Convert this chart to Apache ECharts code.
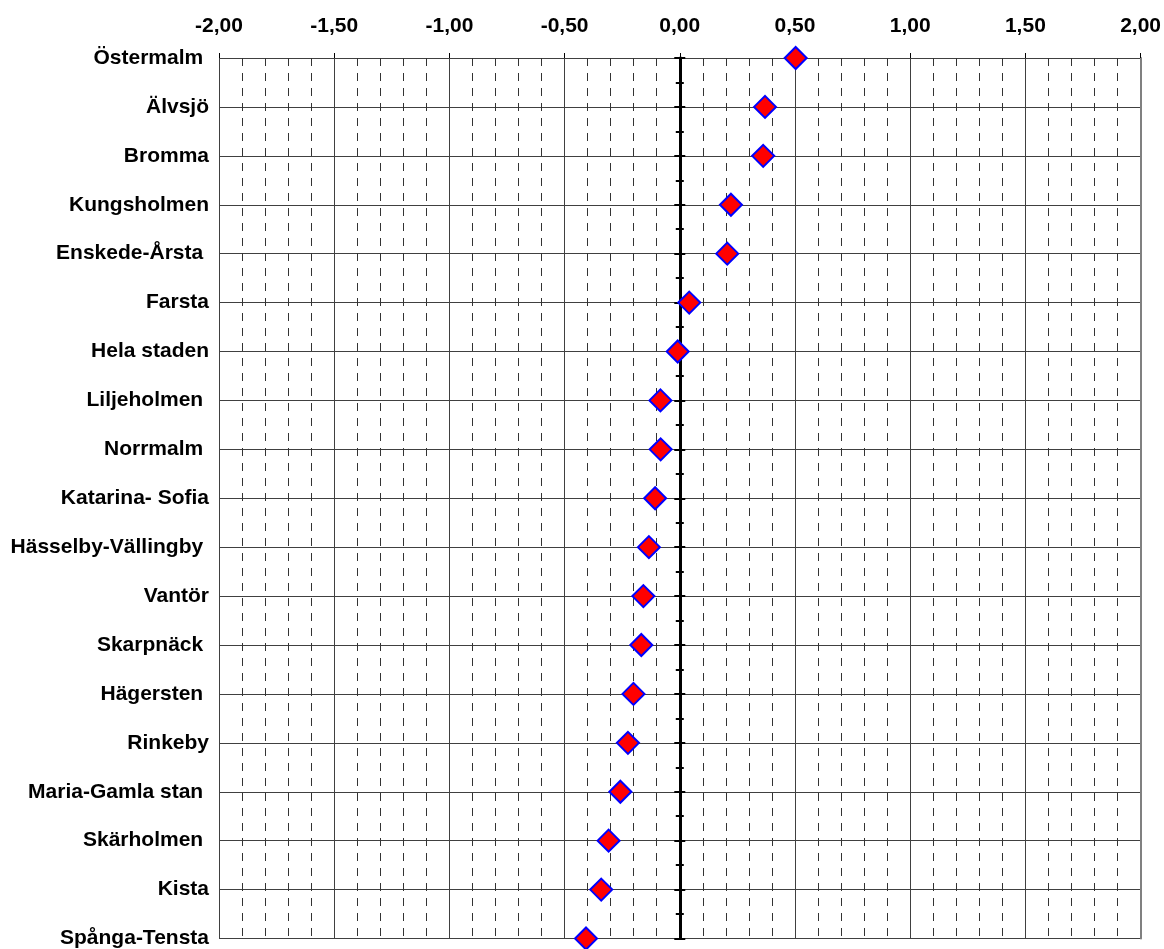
<!DOCTYPE html>
<html><head><meta charset="utf-8">
<script src="https://cdn.jsdelivr.net/npm/echarts@6/dist/echarts.min.js"></script>
<style>html,body{margin:0;padding:0;background:#fff}#c{width:1164px;height:949px}</style>
</head><body><div id="c"></div>
<script>
const categories = ['Östermalm ', 'Älvsjö', 'Bromma', 'Kungsholmen', 'Enskede-Årsta ', 'Farsta', 'Hela staden', 'Liljeholmen ', 'Norrmalm ', 'Katarina- Sofia', 'Hässelby-Vällingby ', 'Vantör', 'Skarpnäck ', 'Hägersten ', 'Rinkeby', 'Maria-Gamla stan ', 'Skärholmen ', 'Kista', 'Spånga-Tensta'];
const values = [0.503, 0.370, 0.362, 0.222, 0.206, 0.041, -0.009, -0.084, -0.083, -0.107, -0.134, -0.158, -0.167, -0.201, -0.225, -0.258, -0.309, -0.341, -0.407];
const tickLabels = ['-2,00', '-1,50', '-1,00', '-0,50', '0,00', '0,50', '1,00', '1,50', '2,00'];

const FONT = 'Liberation Sans, Arial, sans-serif';
const chart = echarts.init(document.getElementById('c'), null, {renderer: 'canvas'});
const tickAxis = (pos) => ({
  type: 'value', position: pos, min: 0, max: categories.length - 1, interval: 1, inverse: true,
  axisLine: {show: true, onZero: true, onZeroAxisIndex: 0, lineStyle: {color: '#000', width: 3}},
  axisTick: {show: true, inside: false, length: 5.5, lineStyle: {color: '#000', width: 2}},
  minorTick: {show: true, splitNumber: 2, length: 4, lineStyle: {color: '#000', width: 2}},
  axisLabel: {show: false}, splitLine: {show: false}, minorSplitLine: {show: false}
});
chart.setOption({
  animation: false,
  backgroundColor: '#fff',
  grid: {left: 219, right: 21, top: 58, bottom: 8, containLabel: false},
  xAxis: {
    type: 'value', position: 'top', min: -2, max: 2, interval: 0.5,
    axisLine: {show: false, onZero: false},
    axisTick: {show: true, length: 5, lineStyle: {color: '#000', width: 1}},
    axisLabel: {
      margin: 32, verticalAlign: 'middle', fontSize: 21, fontWeight: 'bold', color: '#000', fontFamily: FONT,
      formatter: (v) => tickLabels[Math.round((v + 2) / 0.5)]
    },
    splitLine: {show: true, lineStyle: {color: '#404040', width: 1}},
    minorTick: {show: false, splitNumber: 5},
    minorSplitLine: {show: true, lineStyle: {color: '#333', width: 1, type: [8, 7]}}
  },
  yAxis: [
    {
      type: 'category', data: categories, inverse: true, boundaryGap: false, position: 'left',
      axisLine: {show: false, onZero: false},
      axisTick: {show: false, interval: 0},
      axisLabel: {interval: 0, margin: 10, fontSize: 21, fontWeight: 'bold', color: '#000', fontFamily: FONT},
      splitLine: {show: true, interval: 0, lineStyle: {color: '#404040', width: 1}}
    },
    tickAxis('left'),
    tickAxis('right'),
    {
      type: 'value', position: 'right', min: 0, max: categories.length - 1,
      axisLine: {show: true, onZero: false, lineStyle: {color: '#808080', width: 2}},
      axisTick: {show: false}, axisLabel: {show: false}, splitLine: {show: false}
    }
  ],
  series: [{
    type: 'scatter', yAxisIndex: 0, clip: false, z: 10,
    symbol: 'diamond', symbolSize: 22,
    itemStyle: {color: '#FF0000', borderColor: '#0000FF', borderWidth: 2, opacity: 1},
    data: values.map((v, i) => [v, i])
  }]
});
</script></body></html>
